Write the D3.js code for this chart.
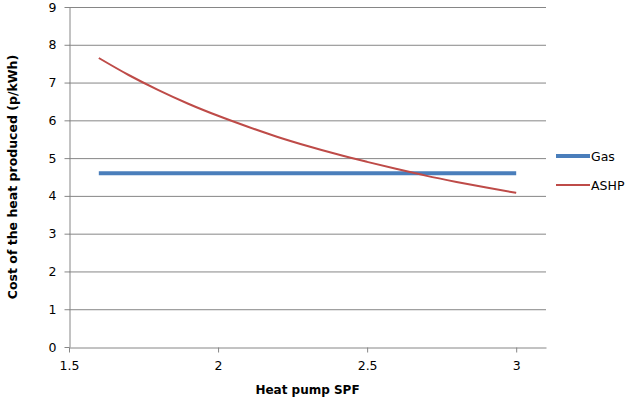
<!DOCTYPE html>
<html>
<head>
<meta charset="utf-8">
<script src="https://cdn.jsdelivr.net/npm/d3@7"></script>
<style>
  body { margin: 0; background: #fff; }
  text { font-family: "DejaVu Sans", Verdana, sans-serif; fill: #000; }
</style>
</head>
<body>
<div id="chart"></div>
<script>
// heat pump SPF values
const spf = [1.6, 1.7, 1.8, 1.9, 2.0, 2.1, 2.2, 2.3, 2.4, 2.5, 2.6, 2.7, 2.8, 2.9, 3.0];
const gasCost = [4.6, 4.6, 4.6, 4.6, 4.6, 4.6, 4.6, 4.6, 4.6, 4.6, 4.6, 4.6, 4.6, 4.6, 4.6];
const ashpCost = [7.65, 7.2, 6.8, 6.44, 6.12, 5.83, 5.56, 5.32, 5.1, 4.9, 4.71, 4.53, 4.37, 4.22, 4.08];
const xTicks = [1.5, 2, 2.5, 3];
const yTicks = [0, 1, 2, 3, 4, 5, 6, 7, 8, 9];

const width = 627, height = 398;
const margin = { top: 7, right: 81, bottom: 51, left: 69 };

const svg = d3.select('#chart').append('svg').attr('width', width).attr('height', height);

const x = d3.scaleLinear().domain([1.5, 3.1]).range([margin.left, width - margin.right]);
const y = d3.scaleLinear().domain([0, 9]).range([height - margin.bottom, margin.top]);

// gridlines
svg.append('g').selectAll('line').data(yTicks.slice(1)).join('line')
  .attr('x1', x(1.5)).attr('x2', x(3.1))
  .attr('y1', d => y(d) + 0.5).attr('y2', d => y(d) + 0.5)
  .attr('stroke', '#868686').attr('stroke-width', 1);

const yAxis = svg.append('g').attr('transform', `translate(${margin.left + 0.5},0)`)
  .call(d3.axisLeft(y).tickValues(yTicks).tickSize(5).tickSizeOuter(0).tickPadding(8));
const xAxis = svg.append('g').attr('transform', `translate(0,${y(0) + 0.5})`)
  .call(d3.axisBottom(x).tickValues(xTicks).tickSize(5).tickSizeOuter(0).tickPadding(9).tickFormat(d3.format('')));
[xAxis, yAxis].forEach(a => {
  a.selectAll('.domain').attr('stroke', '#868686');
  a.selectAll('.tick line').attr('stroke', '#868686');
  a.selectAll('.tick text').style('font-size', '12.5px').style('font-family', '"DejaVu Sans", sans-serif').attr('fill', '#222');
});

const line = d3.line().x(d => x(d[0])).y(d => y(d[1])).curve(d3.curveMonotoneX);

svg.append('path').datum(spf.map((s, i) => [s, gasCost[i]]))
  .attr('d', line).attr('fill', 'none').attr('stroke', '#4A7EBB').attr('stroke-width', 4);
svg.append('path').datum(spf.map((s, i) => [s, ashpCost[i]]))
  .attr('d', line).attr('fill', 'none').attr('stroke', '#BE4B48').attr('stroke-width', 2);

// axis titles
svg.append('text').attr('x', (x(1.5) + x(3.1)) / 2).attr('y', 394)
  .attr('text-anchor', 'middle').style('font-size', '12px').style('font-weight', 'bold')
  .text('Heat pump SPF');
svg.append('text').attr('transform', `translate(17,${(y(0) + y(9)) / 2}) rotate(-90)`)
  .attr('text-anchor', 'middle').style('font-size', '12.5px').style('font-weight', 'bold')
  .text('Cost of the heat produced (p/kWh)');

// legend
const legend = [
  { name: 'Gas', color: '#4A7EBB', w: 4, yy: 156 },
  { name: 'ASHP', color: '#BE4B48', w: 2, yy: 185 }
];
const lg = svg.append('g').selectAll('g').data(legend).join('g');
lg.append('line').attr('x1', 556).attr('x2', 590).attr('y1', d => d.yy).attr('y2', d => d.yy)
  .attr('stroke', d => d.color).attr('stroke-width', d => d.w);
lg.append('text').attr('x', 591).attr('y', d => d.yy + 4.5).style('font-size', '12.5px')
  .text(d => d.name);
</script>
</body>
</html>
